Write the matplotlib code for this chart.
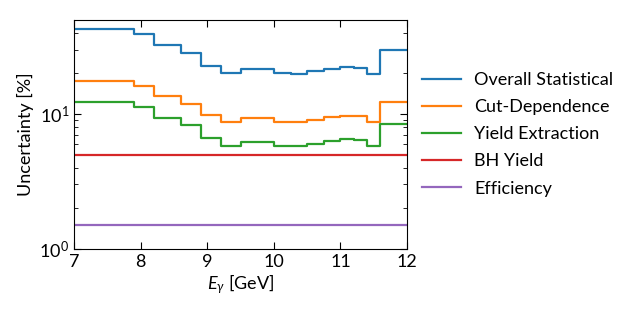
import numpy as np
import matplotlib
matplotlib.use("Agg")
import matplotlib.pyplot as plt
from matplotlib.ticker import LogLocator, NullFormatter

plt.rcParams['font.family'] = ['Lato', 'DejaVu Sans']
plt.rcParams['mathtext.fontset'] = 'custom'
plt.rcParams['mathtext.rm'] = 'Lato'
plt.rcParams['mathtext.it'] = 'Lato:italic'

edges = [7.0, 7.9, 8.2, 8.6, 8.9, 9.2, 9.5, 10.0, 10.25, 10.5, 10.75, 11.0, 11.2, 11.4, 11.6, 12.0]
overall_stat = [42.8, 39.1, 32.6, 28.3, 22.7, 20.0, 21.4, 20.0, 19.8, 20.8, 21.7, 22.4, 21.9, 19.9, 29.9]
cut_dep = [17.4, 16.1, 13.6, 11.9, 9.83, 8.77, 9.29, 8.77, 8.68, 9.03, 9.45, 9.71, 9.61, 8.73, 12.3]
yield_ext = [12.3, 11.2, 9.3, 8.25, 6.6, 5.82, 6.23, 5.82, 5.76, 6.03, 6.31, 6.50, 6.42, 5.82, 8.47]
bh_yield = 5.0
efficiency = 1.5
labels = ["Overall Statistical", "Cut-Dependence", "Yield Extraction", "BH Yield", "Efficiency"]
colors = ["#1f77b4", "#ff7f0e", "#2ca02c", "#d62728", "#9467bd"]

fig = plt.figure(figsize=(6.34, 3.17), dpi=100)
ax = fig.add_axes([0.117, 0.215, 0.525, 0.723])

series = [overall_stat, cut_dep, yield_ext,
          [bh_yield] * (len(edges) - 1), [efficiency] * (len(edges) - 1)]
for vals, lab, c in zip(series, labels, colors):
    ax.step(edges, list(vals) + [vals[-1]], where='post', color=c, lw=1.6, label=lab)

ax.set_yscale('log')
ax.set_xlim(7, 12)
ax.set_ylim(1, 50)
ax.set_xticks([7, 8, 9, 10, 11, 12])
ax.yaxis.set_minor_locator(LogLocator(base=10, subs=np.arange(2, 10)))
ax.yaxis.set_minor_formatter(NullFormatter())
ax.tick_params(which='both', direction='in', top=True, right=True, labelsize=13)
ax.tick_params(which='major', length=5)
ax.tick_params(which='minor', length=3)
ax.set_xlabel(r"$E_\gamma$ [GeV]", fontsize=13, labelpad=2)
ax.set_ylabel("Uncertainty [%]", fontsize=13)

ax.legend(loc='center left', bbox_to_anchor=(0.995, 0.5), frameon=False, fontsize=13,
          handlelength=2.2, handletextpad=0.7, labelspacing=0.62)

fig.savefig("out.png", dpi=100)
